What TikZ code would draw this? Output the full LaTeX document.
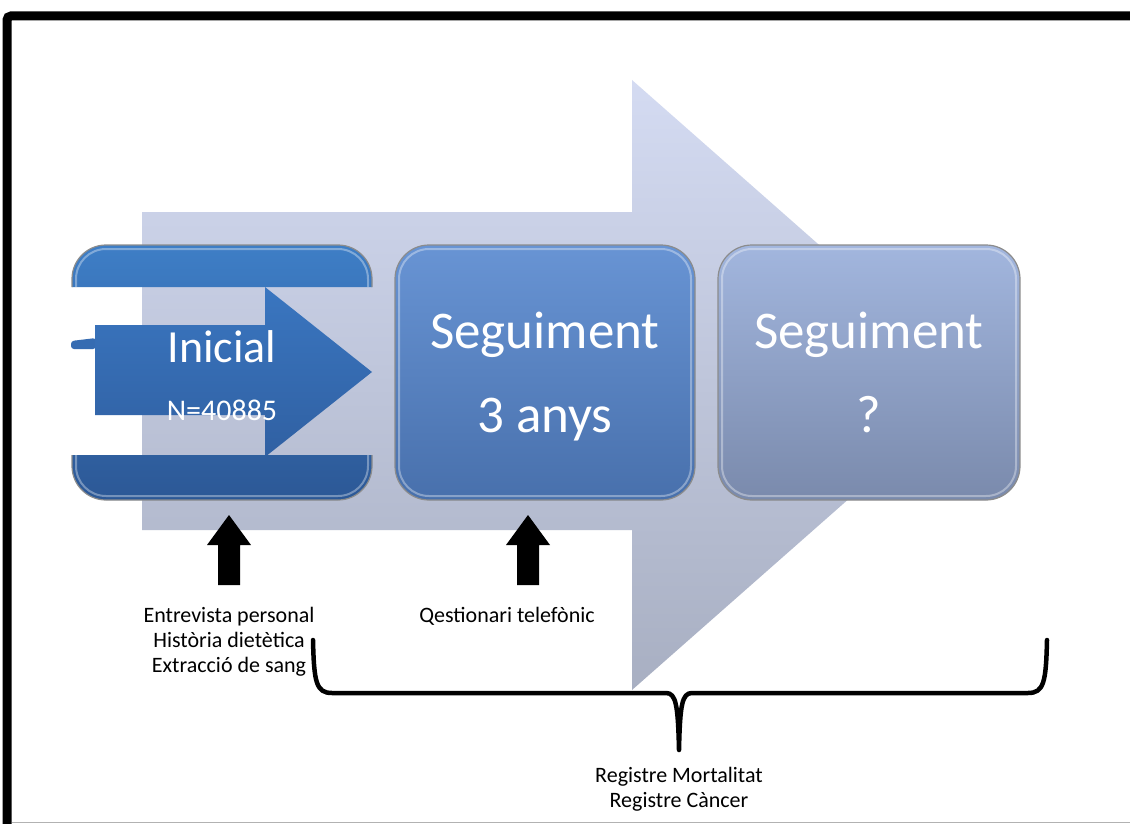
\documentclass[tikz,border=0pt]{standalone}
\usepackage{fontspec}
\setmainfont{Carlito}
\definecolor{flowtop}{RGB}{212,219,242}
\definecolor{flowbot}{RGB}{168,175,194}
\definecolor{oneTop}{RGB}{62,126,198}
\definecolor{oneBot}{RGB}{44,88,150}
\definecolor{oneMid}{RGB}{54,108,178}
\definecolor{arrTop}{RGB}{58,118,192}
\definecolor{arrBot}{RGB}{48,96,162}
\definecolor{twoTop}{RGB}{104,148,212}
\definecolor{twoBot}{RGB}{72,112,172}
\definecolor{threeTop}{RGB}{162,182,222}
\definecolor{threeBot}{RGB}{122,138,172}
\begin{document}
\begin{tikzpicture}[x=1pt,y=-1pt,
  boxedge/.style={draw=black!45,line width=1.2pt,rounded corners=34pt},
  boxglow/.style={draw=white,draw opacity=0.35,line width=2pt,rounded corners=30pt},
  bigtext/.style={text=white,font=\fontsize{53}{60}\selectfont,inner sep=0pt,anchor=base},
  note/.style={text=black,font=\fontsize{22}{25}\selectfont,inner sep=0pt,anchor=base,align=center},
  uparrow/.style={fill=black},
  bracket/.style={draw=black,line width=4.5pt,line cap=round,line join=round}]
\useasboundingbox (0,0) rectangle (1130,824);
\fill[white] (0,0) rectangle (1130,824);

% frame
\draw[line width=9pt,rounded corners=4pt] (7,830) -- (7,16) -- (1140,16);
\draw[black!30,line width=1pt] (12,822.5) -- (1130,822.5);

% large background arrow
\shade[top color=flowtop,bottom color=flowbot]
  (142,212) -- (632,212) -- (632,80) -- (978,385) -- (632,690) -- (632,530) -- (142,530) -- cycle;

% stage 1: top and bottom bands of the rounded box
\begin{scope}
  \clip (60,238) rectangle (385,287) (60,455) rectangle (385,508);
  \shade[rounded corners=34pt,top color=oneTop,bottom color=oneBot]
    (72,245) rectangle (372,500);
  \draw[boxedge] (72,245) rectangle (372,500);
  \draw[boxglow] (76,249) rectangle (368,496);
\end{scope}
% small sliver on the left edge
\fill[oneMid,rounded corners=3pt] (71,349) -- (71,341) -- (96,338) -- (96,349) -- cycle;
% stage 1: block arrow
\shade[top color=arrTop,bottom color=arrBot]
  (95,325) -- (265,325) -- (265,287) -- (372,372) -- (265,457) -- (265,415) -- (95,415) -- cycle;
\node[bigtext,font=\fontsize{46}{52}\selectfont] (ini) at (222,362) {Inicial};
\node[bigtext,font=\fontsize{30}{36}\selectfont] (ninit) at (222,420) {N=40885};

% stage 2
\shade[rounded corners=34pt,top color=twoTop,bottom color=twoBot]
  (395,245) rectangle (695,500);
\draw[boxedge] (395,245) rectangle (695,500);
\draw[boxglow] (399,249) rectangle (691,496);
\node[bigtext] (s2a) at (545,348) {Seguiment};
\node[bigtext] (s2b) at (545,432) {3 anys};

% stage 3
\shade[rounded corners=34pt,top color=threeTop,bottom color=threeBot]
  (718,245) rectangle (1020,500);
\draw[boxedge] (718,245) rectangle (1020,500);
\draw[boxglow] (722,249) rectangle (1016,496);
\node[bigtext] (s3a) at (869,348) {Seguiment};
\node[bigtext] (s3b) at (869,432) {?};

% black pointer arrows
\coordinate (p1) at (229,515);
\coordinate (p2) at (528,515);
\fill[uparrow] (p1) -- ++(22,30) -- ++(-11,0) -- ++(0,40) -- ++(-22,0) -- ++(0,-40) -- ++(-11,0) -- cycle;
\fill[uparrow] (p2) -- ++(22,30) -- ++(-11,0) -- ++(0,40) -- ++(-22,0) -- ++(0,-40) -- ++(-11,0) -- cycle;

% labels under the pointers (base anchor sits on the last line)
\node[note] (l1) at (229,672) {Entrevista personal\\Història dietètica\\Extracció de sang};
\node[note] (l2) at (507,622) {Qestionari telefònic};

% brace
\coordinate (bl) at (313,640);
\coordinate (br) at (1047,640);
\coordinate (bm) at (679,750);
\draw[bracket] (bl) .. controls (314,682) and (316,693) .. (332,693) -- (666,693)
  .. controls (676,693) and (678,705) .. (bm)
  .. controls (680,705) and (682,693) .. (692,693) -- (1028,693)
  .. controls (1044,693) and (1046,682) .. (br);
\node[note] (l3) at (679,807) {Registre Mortalitat\\Registre Càncer};
\end{tikzpicture}
\end{document}
